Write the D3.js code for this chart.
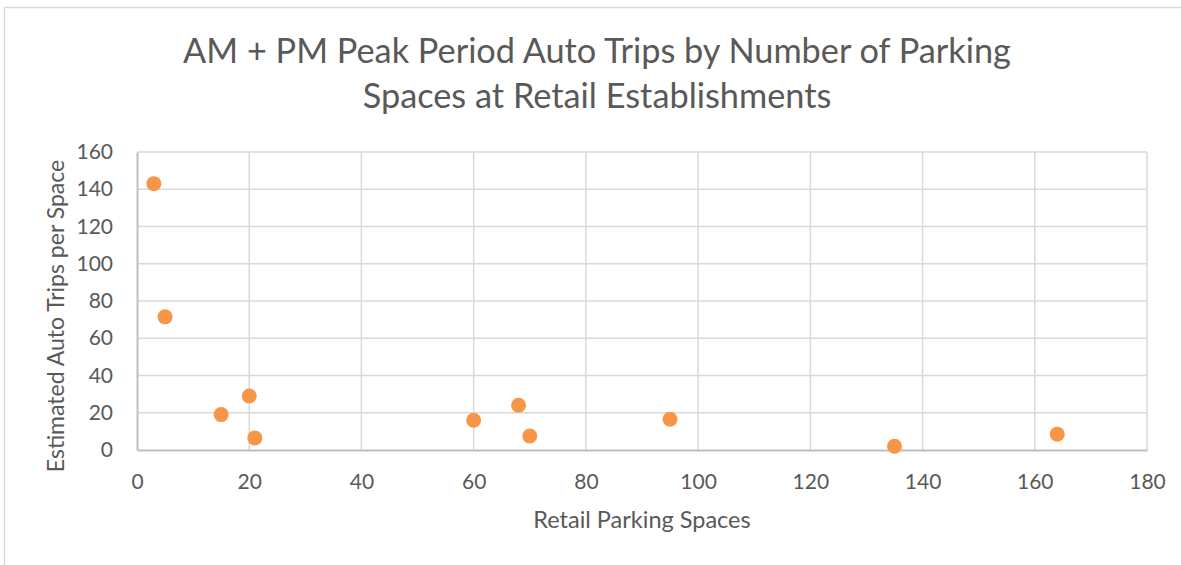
<!DOCTYPE html>
<html>
<head>
<meta charset="utf-8">
<script src="https://cdn.jsdelivr.net/npm/d3@7"></script>
<style>
  body { margin: 0; background: #fff; }
  text { font-family: Lato, "Open Sans", sans-serif; fill: #595959; }
</style>
</head>
<body>
<div id="viz"></div>
<script>
const width = 1181;
const height = 565;

// Data
const parkingSpaces = [3, 5, 15, 20, 21, 60, 68, 70, 95, 135, 164];
const tripsPerSpace = [143, 71.5, 19, 29, 6.5, 16, 24, 7.5, 16.5, 2, 8.5];
const xTicks = [0, 20, 40, 60, 80, 100, 120, 140, 160, 180];
const yTicks = [0, 20, 40, 60, 80, 100, 120, 140, 160];
const titleLines = ["AM + PM Peak Period Auto Trips by Number of Parking", "Spaces at Retail Establishments"];

const margin = {left: 137, right: 34, top: 152, bottom: 115};

const svg = d3.select("#viz")
  .append("svg")
  .attr("width", width)
  .attr("height", height);

// chart border
svg.append("rect")
  .attr("x", 4.5)
  .attr("y", 7.5)
  .attr("width", width + 10)
  .attr("height", height + 10)
  .attr("fill", "#fff")
  .attr("stroke", "#d9d9d9")
  .attr("stroke-width", 1.5);

const x = d3.scaleLinear()
  .domain([0, 180])
  .range([margin.left, width - margin.right]);

const y = d3.scaleLinear()
  .domain([0, 160])
  .range([height - margin.bottom, margin.top]);

// gridlines
svg.append("g")
  .selectAll("line.v")
  .data(xTicks.slice(1))
  .join("line")
  .attr("x1", d => x(d))
  .attr("x2", d => x(d))
  .attr("y1", y(0))
  .attr("y2", y(160))
  .attr("stroke", "#d9d9d9")
  .attr("stroke-width", 1.5);

svg.append("g")
  .selectAll("line.h")
  .data(yTicks.slice(1))
  .join("line")
  .attr("x1", x(0))
  .attr("x2", x(180))
  .attr("y1", d => y(d))
  .attr("y2", d => y(d))
  .attr("stroke", "#d9d9d9")
  .attr("stroke-width", 1.5);

// axes
const xAxis = svg.append("g")
  .attr("transform", `translate(0,${y(0)})`)
  .call(d3.axisBottom(x).tickValues(xTicks).tickSize(0).tickPadding(24));
xAxis.select(".domain").attr("stroke", "#bfbfbf").attr("stroke-width", 2);
xAxis.selectAll("text").attr("font-size", "21px").style("font-family", "Lato, sans-serif").attr("fill", "#595959");

const yAxis = svg.append("g")
  .attr("transform", `translate(${x(0)},0)`)
  .call(d3.axisLeft(y).tickValues(yTicks).tickSize(0).tickPadding(24));
yAxis.select(".domain").attr("stroke", "#bfbfbf").attr("stroke-width", 2);
yAxis.selectAll("text").attr("font-size", "21px").style("font-family", "Lato, sans-serif").attr("fill", "#595959");

// points
svg.append("g")
  .selectAll("circle")
  .data(parkingSpaces.map((d, i) => [d, tripsPerSpace[i]]))
  .join("circle")
  .attr("cx", d => x(d[0]))
  .attr("cy", d => y(d[1]))
  .attr("r", 7.5)
  .attr("fill", "#f79646");

// title
svg.append("g")
  .selectAll("text")
  .data(titleLines)
  .join("text")
  .attr("x", 597)
  .attr("y", (d, i) => 63 + i * 45)
  .attr("text-anchor", "middle")
  .attr("font-size", "34.3px")
  .text(d => d);

// axis titles
svg.append("text")
  .attr("x", x(90))
  .attr("y", 528)
  .attr("text-anchor", "middle")
  .attr("font-size", "23.5px")
  .text("Retail Parking Spaces");

svg.append("text")
  .attr("transform", `translate(64,${y(80) + 15}) rotate(-90)`)
  .attr("text-anchor", "middle")
  .attr("font-size", "23px")
  .text("Estimated Auto Trips per Space");
</script>
</body>
</html>
